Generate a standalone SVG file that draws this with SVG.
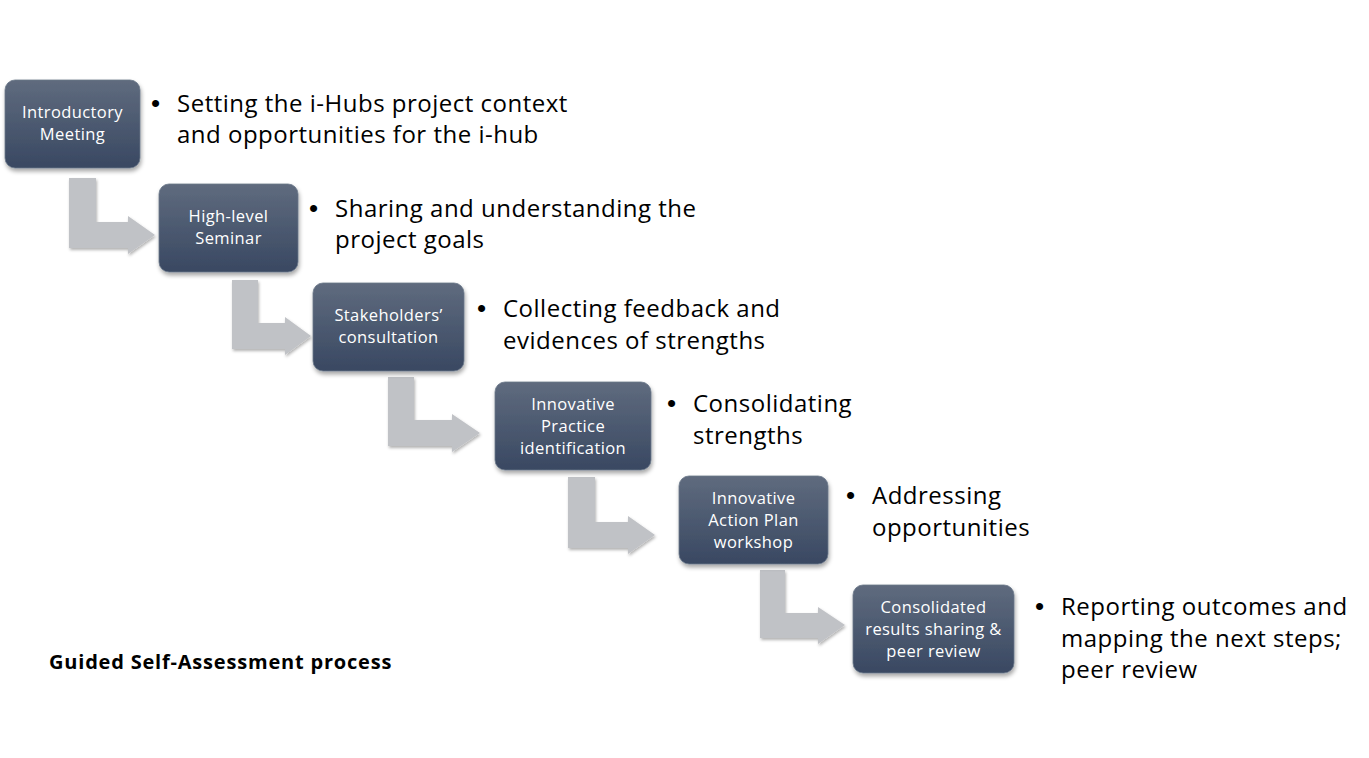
<svg xmlns="http://www.w3.org/2000/svg" width="1369" height="758" viewBox="0 0 1369 758">
<style>
.box{fill:url(#boxGrad);stroke:#6b7789;stroke-width:0.8;filter:url(#shadow)}
.lbl{font-family:"Open Sans",Lato,"Liberation Sans",sans-serif;font-size:16.5px;letter-spacing:0.4px;fill:#ffffff;text-anchor:middle}
.bul{font-family:"Open Sans",Lato,"Liberation Sans",sans-serif;font-size:24px;letter-spacing:0.5px;fill:#000000}
.dot{font-family:"Liberation Sans",Arial,sans-serif;font-size:26px;fill:#000000}
.arrow{fill:#c0c2c6;filter:url(#ashadow)}
.title{font-family:"Open Sans",Lato,"Liberation Sans",sans-serif;font-size:20px;letter-spacing:0.8px;font-weight:bold;fill:#000000}
</style>
<defs>
<linearGradient id="boxGrad" x1="0" y1="0" x2="0" y2="1">
<stop offset="0" stop-color="#5f6b7e"/>
<stop offset="1" stop-color="#394862"/>
</linearGradient>
<filter id="shadow" x="-10%" y="-10%" width="125%" height="130%">
<feDropShadow dx="1" dy="3" stdDeviation="2" flood-color="#000" flood-opacity="0.35"/>
</filter>
<filter id="ashadow" x="-10%" y="-10%" width="125%" height="130%">
<feDropShadow dx="1" dy="2" stdDeviation="1.5" flood-color="#000" flood-opacity="0.3"/>
</filter>
</defs>
<rect width="1369" height="758" fill="#ffffff"/>

<g id="connectors">
<path class="arrow" d="M69,178 L96,178 L96,222 L128,222 L128,216 L155,235 L128,254 L128,248 L69,248 Z"/>
<path class="arrow" d="M232,280 L258,280 L258,323 L285,323 L285,317 L311,336 L285,355 L285,349 L232,349 Z"/>
<path class="arrow" d="M388,377 L414,377 L414,420 L452,420 L452,414 L480,433 L452,452 L452,446 L388,446 Z"/>
<path class="arrow" d="M568,477 L595,477 L595,522 L628,522 L628,516 L655,535 L628,554 L628,548 L568,548 Z"/>
<path class="arrow" d="M760,570 L785,570 L785,613 L818,613 L818,607 L845,625 L818,644 L818,638 L760,638 Z"/>
</g>

<g id="node1">
<rect class="box" x="5" y="80" width="135" height="88" rx="10"/>
<text class="lbl" x="72.5" y="118">Introductory</text>
<text class="lbl" x="72.5" y="140">Meeting</text>
</g>
<g id="bullets1">
<text class="dot" x="151" y="112">•</text>
<text class="bul" x="177" y="112">Setting the i-Hubs project context</text>
<text class="bul" x="177" y="143">and opportunities for the i-hub</text>
</g>

<g id="node2">
<rect class="box" x="159" y="184" width="139" height="88" rx="10"/>
<text class="lbl" x="228.5" y="222">High-level</text>
<text class="lbl" x="228.5" y="244">Seminar</text>
</g>
<g id="bullets2">
<text class="dot" x="309" y="217">•</text>
<text class="bul" x="335" y="217">Sharing and understanding the</text>
<text class="bul" x="335" y="248">project goals</text>
</g>

<g id="node3">
<rect class="box" x="313" y="283" width="151" height="88" rx="10"/>
<text class="lbl" x="388.5" y="321">Stakeholders’</text>
<text class="lbl" x="388.5" y="343">consultation</text>
</g>
<g id="bullets3">
<text class="dot" x="477" y="317">•</text>
<text class="bul" x="503" y="317">Collecting feedback and</text>
<text class="bul" x="503" y="349">evidences of strengths</text>
</g>

<g id="node4">
<rect class="box" x="495" y="382" width="156" height="88" rx="10"/>
<text class="lbl" x="573" y="410">Innovative</text>
<text class="lbl" x="573" y="432">Practice</text>
<text class="lbl" x="573" y="454">identification</text>
</g>
<g id="bullets4">
<text class="dot" x="667" y="412">•</text>
<text class="bul" x="693" y="412">Consolidating</text>
<text class="bul" x="693" y="444">strengths</text>
</g>

<g id="node5">
<rect class="box" x="679" y="476" width="149" height="88" rx="10"/>
<text class="lbl" x="753.5" y="504">Innovative</text>
<text class="lbl" x="753.5" y="526">Action Plan</text>
<text class="lbl" x="753.5" y="548">workshop</text>
</g>
<g id="bullets5">
<text class="dot" x="846" y="504">•</text>
<text class="bul" x="872" y="504">Addressing</text>
<text class="bul" x="872" y="536">opportunities</text>
</g>

<g id="node6">
<rect class="box" x="853" y="585" width="161" height="88" rx="10"/>
<text class="lbl" x="933.5" y="613">Consolidated</text>
<text class="lbl" x="933.5" y="635">results sharing &amp;</text>
<text class="lbl" x="933.5" y="657">peer review</text>
</g>
<g id="bullets6">
<text class="dot" x="1035" y="615">•</text>
<text class="bul" x="1061" y="615">Reporting outcomes and</text>
<text class="bul" x="1061" y="647">mapping the next steps;</text>
<text class="bul" x="1061" y="678">peer review</text>
</g>

<g id="title">
<text class="title" x="49" y="669">Guided Self-Assessment process</text>
</g>
</svg>
